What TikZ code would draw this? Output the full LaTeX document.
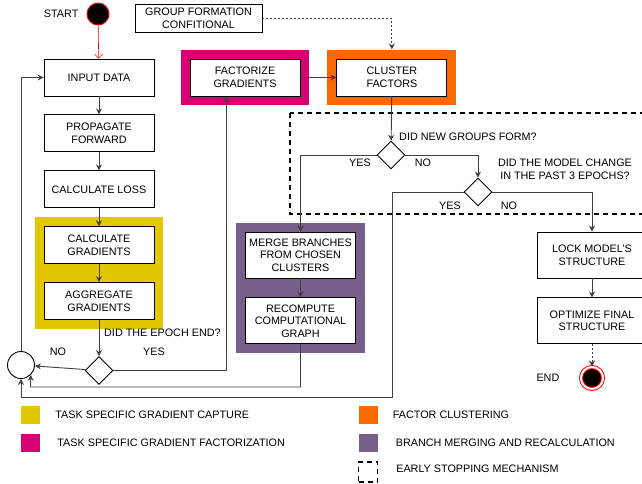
\documentclass[tikz,border=0pt]{standalone}
\usepackage{fontspec}
\setmainfont{Liberation Sans}
\usepackage{xcolor}
\usepackage{tikz}
\usetikzlibrary{positioning, arrows.meta, shapes.geometric, fit, backgrounds}

\definecolor{capture}{HTML}{E3C800}
\definecolor{factorcol}{HTML}{D80073}
\definecolor{clustercol}{HTML}{FA6800}
\definecolor{mergecol}{HTML}{76608A}

\begin{document}
\begin{tikzpicture}[
        x=1pt, y=-1pt,
        font=\fontsize{10.8}{12.6}\selectfont,
        node distance=18pt,
        box/.style={rectangle, draw=black, line width=0.9pt, fill=white, minimum width=110pt, minimum height=37pt, align=center, inner sep=2pt},
        tallbox/.style={box, minimum height=46pt},
        decision/.style={diamond, draw=black, line width=0.9pt, fill=white, minimum width=28pt, minimum height=28pt, inner sep=0pt, aspect=1},
        zone/.style={rectangle, inner sep=9pt},
        tag/.style={inner sep=0pt, align=center},
        legend/.style={rectangle, minimum width=19pt, minimum height=18pt, inner sep=0pt},
        arrow/.style={-{Stealth[length=6pt, width=6pt, inset=2pt]}, line width=0.9pt, draw=black!75}
    ]
    \useasboundingbox (0,0) rectangle (642,483);

    \node[circle, fill=black, draw=red, line width=0.9pt, minimum size=22pt] (start) at (98,14) {};
    \node[tag, left=8pt of start] (startlbl) {START};

    \node[box] (input) at (99,77.5) {INPUT DATA};
    \node[box, below=of input] (propagate) {PROPAGATE\\FORWARD};
    \node[box, below=of propagate] (loss) {CALCULATE LOSS};
    \node[box, below=of loss] (calcgrad) {CALCULATE\\GRADIENTS};
    \node[box, below=of calcgrad] (aggregate) {AGGREGATE\\GRADIENTS};
    \node[decision, below=36pt of aggregate] (epoch) {};
    \node[circle, draw=black, line width=0.9pt, fill=white, minimum size=27pt] (join) at (21,365) {};
    \node[tag, anchor=west] (epochq) at (104,333) {DID THE EPOCH END?};
    \node[tag] (epochno) at (58,352) {NO};
    \node[tag] (epochyes) at (154,352) {YES};

    \node[box, minimum width=127pt, minimum height=28pt] (group) at (198.5,18) {GROUP FORMATION\\CONFITIONAL};
    \node[box] (factorize) at (245,77.5) {FACTORIZE\\GRADIENTS};
    \node[box, right=36pt of factorize] (cluster) {CLUSTER\\FACTORS};

    \node[decision] (newgroups) at (391,155) {};
    \node[tag, anchor=west] (newgroupsq) at (399,137) {DID NEW GROUPS FORM?};
    \node[tag] (newgroupsyes) at (360,163) {YES};
    \node[tag] (newgroupsno) at (423,163) {NO};

    \node[decision] (modelchange) at (478,192) {};
    \node[tag] (modelchangeq) at (565,169) {DID THE MODEL CHANGE\\IN THE PAST 3 EPOCHS?};
    \node[tag] (modelchangeyes) at (450,206) {YES};
    \node[tag] (modelchangeno) at (509,206) {NO};

    \node[tallbox] (merge) at (300.5,255) {MERGE BRANCHES\\FROM CHOSEN\\CLUSTERS};
    \node[tallbox, below=19pt of merge] (recompute) {RECOMPUTE\\COMPUTATIONAL\\GRAPH};

    \node[tallbox] (lock) at (592,255) {LOCK MODEL'S\\STRUCTURE};
    \node[tallbox, below=19pt of lock] (optimize) {OPTIMIZE FINAL\\STRUCTURE};
    \node[circle, fill=black, draw=red, double=white, double distance=2pt, line width=1pt, minimum size=22pt] (end) at (592,378) {};
    \node[tag, left=21pt of end] (endlbl) {END};

    \begin{scope}[on background layer]
        \node[zone, fill=capture, fit=(calcgrad)(aggregate)] (capturezone) {};
        \node[zone, fill=factorcol, fit=(factorize)] (factorzone) {};
        \node[zone, fill=clustercol, fit=(cluster)] (clusterzone) {};
        \node[zone, fill=mergecol, fit=(merge)(recompute)] (mergezone) {};
    \end{scope}

    \draw[line width=1.2pt, dash pattern=on 5pt off 4pt] (290,113) rectangle (650,214);

    \draw[-{Straight Barb[length=4pt, width=8pt]}, draw=red, line width=0.6pt] (start) -- (input);
    \draw[arrow] (input) -- (propagate);
    \draw[arrow] (propagate) -- (loss);
    \draw[arrow] (loss) -- (calcgrad);
    \draw[arrow] (calcgrad) -- (aggregate);
    \draw[arrow] (aggregate) -- (epoch);
    \draw[arrow] (epoch) -- (join);
    \draw[arrow] (epoch.east) -| ([xshift=-19pt]factorize.south);
    \draw[arrow] (join.north) |- (input.west);

    \draw[arrow] (factorize) -- (cluster);
    \draw[arrow, dash pattern=on 2pt off 2pt] (group.east) -| (clusterzone.north);
    \draw[arrow] (cluster) -- (newgroups);
    \draw[arrow] (newgroups.west) -| (merge.north);
    \draw[arrow] (newgroups.east) -| (modelchange.north);
    \draw[arrow] (modelchange.east) -| (lock.north);
    \draw[arrow] (merge) -- (recompute);
    \draw[arrow] (lock) -- (optimize);
    \draw[arrow, dash pattern=on 2pt off 2pt] (optimize) -- (end);

    \coordinate (mergeback) at (30.5,387);
    \coordinate (yesback) at (392,397);
    \draw[arrow] (recompute.south) |- (mergeback) -- (join.-45);
    \draw[arrow] (modelchange.west) -| (yesback) -| (join.south);

    \node[legend, fill=capture] (keycapture) at (30.5,415) {};
    \node[tag, right=15pt of keycapture] (keycapturelbl) {TASK SPECIFIC GRADIENT CAPTURE};
    \node[legend, fill=factorcol] (keyfactor) at (30.5,442.5) {};
    \node[tag, right=17pt of keyfactor] (keyfactorlbl) {TASK SPECIFIC GRADIENT FACTORIZATION};
    \node[legend, fill=clustercol] (keycluster) at (368,415) {};
    \node[tag, right=15pt of keycluster] (keyclusterlbl) {FACTOR CLUSTERING};
    \node[legend, fill=mergecol] (keymerge) at (368,442.5) {};
    \node[tag, right=18pt of keymerge] (keymergelbl) {BRANCH MERGING AND RECALCULATION};
    \node[legend, minimum height=20pt, draw=black, line width=1.2pt, dash pattern=on 5pt off 4pt] (keystop) at (368,472) {};
    \node[tag, right=18pt of keystop, yshift=3pt] (keystoplbl) {EARLY STOPPING MECHANISM};
\end{tikzpicture}
\end{document}
